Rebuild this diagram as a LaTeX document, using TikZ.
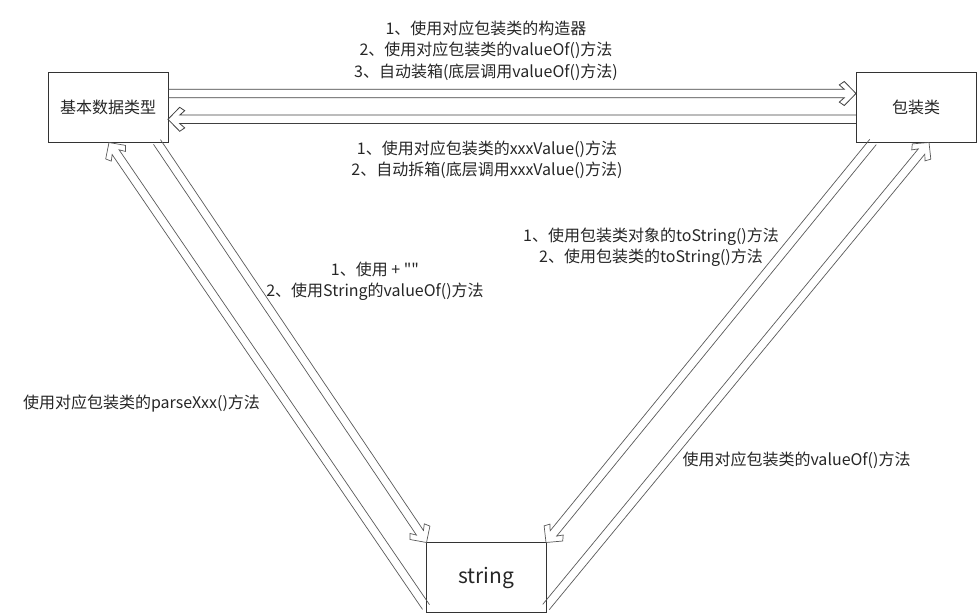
\documentclass[tikz,border=0pt]{standalone}
\usepackage{fontspec}
\setmainfont{Noto Sans CJK SC}[Ligatures=TeXOff]
\usetikzlibrary{calc}
\tikzset{
  box/.style={draw=black!80, line width=0.9pt, minimum width=120pt, minimum height=70pt, inner sep=0pt, font=\fontsize{16}{20}\selectfont, text=black!85},
  lbl/.style={align=center, font=\fontsize{16}{21.3}\selectfont, inner sep=0pt, text=black!85},
  barrow/.style={draw=black!75, line width=0.8pt, line join=miter},
}
\newcommand\hollowarrow[3][]{%
  \path coordinate (ha1) at ($(#3)!11.7pt!(#2)$) coordinate (ha2) at ($(#3)!16.7pt!(#2)$);
  \draw[barrow,#1] ($(#2)!4.2pt!90:(#3)$) -- ($(ha1)!4.2pt!90:(#3)$) -- ($(ha2)!8.6pt!90:(#3)$) -- ($(ha1)!12pt!90:(#3)$) -- (#3) -- ($(ha1)!12pt!-90:(#3)$) -- ($(ha2)!8.6pt!-90:(#3)$) -- ($(ha1)!4.2pt!-90:(#3)$) -- ($(#2)!4.2pt!-90:(#3)$);
}
\begin{document}
\begin{tikzpicture}[x=1pt,y=-1pt]
\useasboundingbox (0,0) rectangle (977,615);
% boxes
\node[box] (A) at (108,107) {基本数据类型};
\node[box] (B) at (916,107) {包装类};
\node[box, font=\fontsize{21}{24}\selectfont] (C) at (486,577.5) {string};
% connector endpoints
\coordinate (ab1) at (168,93.5);
\coordinate (ab2) at (856,93.5);
\coordinate (ba1) at (856,119.3);
\coordinate (ba2) at (168,119.3);
\coordinate (ac1) at (157,142);
\coordinate (ac2) at (426.5,542.5);
\coordinate (ca1) at (426,607);
\coordinate (ca2) at (109,142.5);
\coordinate (bc1) at (873,142);
\coordinate (bc2) at (546,542.5);
\coordinate (cb1) at (546,607);
\coordinate (cb2) at (929,142.5);
% arrows
\hollowarrow{ab1}{ab2}
\hollowarrow{ba1}{ba2}
\hollowarrow[draw=black!65, line width=0.7pt]{ac1}{ac2}
\hollowarrow[draw=black!65, line width=0.7pt]{ca1}{ca2}
\hollowarrow[draw=black!65, line width=0.7pt]{bc1}{bc2}
\hollowarrow[draw=black!65, line width=0.7pt]{cb1}{cb2}
% labels
\node[lbl] (t1) at (486,50.5) {1、使用对应包装类的构造器\\2、使用对应包装类的valueOf()方法\\3、自动装箱(底层调用valueOf()方法)};
\node[lbl] (t2) at (487,159.5) {1、使用对应包装类的xxxValue()方法\\2、自动拆箱(底层调用xxxValue()方法)};
\node[lbl] (t3) at (651,247.5) {1、使用包装类对象的toString()方法\\2、使用包装类的toString()方法};
\node[lbl] (t4) at (375,281) {1、使用 + ""\\2、使用String的valueOf()方法};
\node[lbl] (t5) at (141.5,404) {使用对应包装类的parseXxx()方法};
\node[lbl] (t6) at (796.5,460) {使用对应包装类的valueOf()方法};
\end{tikzpicture}
\end{document}
